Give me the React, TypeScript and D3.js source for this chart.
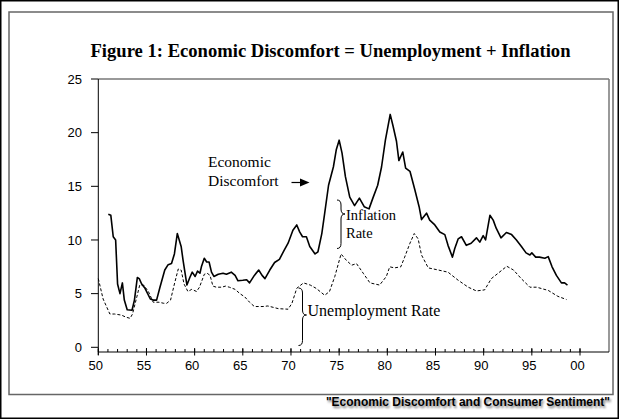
import React from "react";
import * as d3 from "d3";

const discYears = [1951.04,1951.3,1951.55,1951.8,1952.0,1952.25,1952.5,1952.7,1953.0,1953.5,1953.75,1954.05,1954.25,1954.5,1954.85,1955.4,1955.7,1956.05,1956.4,1956.9,1957.25,1957.6,1957.9,1958.2,1958.6,1958.8,1959.2,1959.5,1959.75,1960.05,1960.3,1960.55,1960.7,1961.0,1961.25,1961.5,1961.75,1962.0,1962.45,1962.95,1963.3,1963.8,1964.2,1964.5,1965.0,1965.4,1965.7,1966.2,1966.65,1967.0,1967.3,1967.8,1968.3,1968.8,1969.3,1969.7,1970.2,1970.6,1970.9,1971.2,1971.6,1971.95,1972.5,1972.8,1973.2,1973.5,1973.9,1974.4,1974.7,1975.0,1975.3,1975.65,1976.1,1976.6,1977.1,1977.6,1978.1,1978.5,1979.0,1979.4,1979.8,1980.3,1980.6,1980.95,1981.2,1981.6,1981.9,1982.35,1982.85,1983.3,1983.55,1984.07,1984.4,1984.93,1985.45,1985.97,1986.3,1986.76,1987.0,1987.35,1987.7,1988.2,1988.7,1989.25,1989.6,1989.95,1990.2,1990.65,1990.99,1991.3,1991.8,1992.36,1992.9,1993.4,1993.92,1994.4,1994.8,1995.0,1995.4,1995.8,1996.35,1996.7,1997.1,1997.55,1998.07,1998.4,1998.7];
const discValues = [12.4,12.3,10.3,10.0,5.9,5.0,6.0,4.4,3.5,3.45,4.4,6.5,6.4,5.9,5.5,4.5,4.4,4.4,5.6,7.2,7.7,7.8,8.7,10.6,9.4,8.1,5.8,6.5,7.0,6.6,7.1,6.9,7.5,8.3,7.95,7.95,7.0,6.6,6.8,6.9,6.8,7.0,6.7,6.2,6.25,6.3,6.0,6.7,7.2,6.7,6.4,7.2,7.9,8.2,9.05,9.7,10.9,11.4,10.75,10.3,10.3,9.4,8.7,8.9,10.6,12.5,15.1,16.8,18.4,19.3,18.1,15.9,14.0,13.2,13.9,13.1,12.9,13.9,15.1,16.8,19.3,21.7,20.6,19.2,17.4,18.2,16.7,16.4,14.7,13.1,11.9,12.5,11.85,11.4,10.75,10.5,9.5,8.4,9.2,10.1,10.3,9.5,9.7,10.2,9.8,10.4,10.0,12.3,11.85,11.1,10.2,10.7,10.5,10.0,9.4,8.8,8.6,8.8,8.4,8.4,8.3,8.45,7.5,6.7,6.0,6.0,5.8];

const unempYears = [1950.0,1950.5,1951.2,1951.7,1952.4,1952.9,1953.3,1953.55,1954.0,1954.3,1954.7,1955.2,1955.7,1956.3,1956.8,1957.1,1957.5,1957.9,1958.3,1958.6,1958.9,1959.3,1959.7,1960.2,1960.5,1961.0,1961.3,1961.6,1961.9,1962.25,1962.8,1963.2,1963.6,1964.2,1964.7,1965.2,1965.7,1966.2,1966.6,1967.1,1967.6,1968.7,1969.7,1970.1,1970.6,1971.3,1972.0,1972.6,1973.5,1974.0,1974.55,1975.2,1975.75,1976.3,1976.8,1977.5,1978.2,1979.2,1979.9,1980.25,1980.75,1981.4,1981.8,1982.35,1982.8,1983.2,1983.55,1984.25,1985.3,1986.3,1987.35,1988.4,1989.25,1990.1,1990.8,1991.5,1992.4,1993.1,1993.9,1994.8,1995.5,1996.7,1997.7,1998.6];
const unempValues = [6.4,4.5,3.1,3.1,3.0,2.8,2.7,3.1,4.7,5.8,5.8,5.2,4.2,4.2,4.1,4.1,4.4,5.9,7.3,7.2,5.9,5.2,5.4,5.2,5.6,6.8,6.9,6.7,5.7,5.6,5.6,5.7,5.6,5.4,5.0,4.7,4.2,3.8,3.8,3.8,3.85,3.6,3.55,4.1,5.5,6.0,5.8,5.5,4.85,5.2,6.6,8.7,8.1,7.65,7.8,6.9,6.0,5.8,6.6,7.5,7.4,7.5,8.4,9.7,10.6,10.1,8.6,7.4,7.2,7.0,6.25,5.6,5.25,5.35,6.4,6.9,7.55,7.2,6.4,5.6,5.6,5.3,4.75,4.45];

const yTicks = [0, 5, 10, 15, 20, 25];
const xMajorTicks = [1950, 1955, 1960, 1965, 1970, 1975, 1980, 1985, 1990, 1995, 2000];
const xTickLabels = ["50", "55", "60", "65", "70", "75", "80", "85", "90", "95", "00"];
const xMinorTicks = d3.range(1950, 2001);

const title = "Figure 1: Economic Discomfort = Unemployment + Inflation";
const footer = "\"Economic Discomfort and Consumer Sentiment\"";

const SERIF = "'Liberation Serif', 'Times New Roman', serif";
const SANS = "'Liberation Sans', Arial, sans-serif";

function brace(x: number, y0: number, y1: number, w: number, tipY: number) {
  const r = Math.min(5, (y1 - y0) / 6);
  const xm = x + w / 2;
  return `M${x},${y0} Q${xm},${y0} ${xm},${y0 + r} L${xm},${tipY - r} Q${xm},${tipY} ${x + w},${tipY} Q${xm},${tipY} ${xm},${tipY + r} L${xm},${y1 - r} Q${xm},${y1} ${x},${y1}`;
}

export default function App() {
  const left = 98.3, plotRight = 609, top = 79, axisY = 352;
  const x = d3.scaleLinear().domain([1950, 2000]).range([left, 580]);
  const y = d3.scaleLinear().domain([0, 25]).range([347.3, top]);

  const discData = discYears.map((d, i) => [d, discValues[i]] as [number, number]);
  const unempData = unempYears.map((d, i) => [d, unempValues[i]] as [number, number]);
  const line = d3.line<[number, number]>().x(d => x(d[0])).y(d => y(d[1]));

  return (
    <svg width={621} height={420} style={{ position: "absolute", left: 0, top: 0, background: "#fff" }}>
      <defs>
        <filter id="blur" x="-5%" y="-50%" width="110%" height="200%">
          <feGaussianBlur stdDeviation="1" />
        </filter>
      </defs>
      <rect x={0} y={0} width={621} height={420} fill="#fff" />
      <rect x={0.75} y={0.75} width={617.5} height={417.5} fill="none" stroke="#000" strokeWidth={1.5} />
      <rect x={9} y={12} width={604} height={382.5} fill="none" stroke="#666" strokeWidth={1.5} />

      <text x={330.5} y={57} textAnchor="middle" fontFamily={SERIF} fontWeight="bold" fontSize={18.6}>{title}</text>

      {/* plot frame */}
      <line x1={left} x2={plotRight} y1={top} y2={top} stroke="#777" strokeWidth={1.5} />
      <line x1={plotRight} x2={plotRight} y1={top} y2={axisY} stroke="#777" strokeWidth={1.5} />
      <line x1={left} x2={left} y1={top} y2={axisY + 3} stroke="#000" strokeWidth={1} />
      <line x1={left} x2={plotRight} y1={axisY} y2={axisY} stroke="#000" strokeWidth={1} />

      {yTicks.map(t => (
        <g key={t}>
          <line x1={91} x2={left} y1={y(t)} y2={y(t)} stroke="#000" strokeWidth={1} />
          <text x={82} y={y(t)} dy="0.36em" textAnchor="end" fontFamily={SANS} fontSize={13}>{t}</text>
        </g>
      ))}
      {xMinorTicks.map(t => (
        <line key={t} x1={x(t)} x2={x(t)} y1={axisY - 3} y2={axisY} stroke="#000" strokeWidth={1} />
      ))}
      {xMajorTicks.map((t, i) => (
        <g key={t}>
          <line x1={x(t)} x2={x(t)} y1={axisY - 4} y2={axisY + 3.5} stroke="#000" strokeWidth={1} />
          <text x={x(t) - 2.5} y={axisY + 18} textAnchor="middle" fontFamily={SANS} fontSize={13}>{xTickLabels[i]}</text>
        </g>
      ))}

      <path d={line(unempData) || ""} fill="none" stroke="#000" strokeWidth={1} strokeDasharray="3,2" />
      <path d={line(discData) || ""} fill="none" stroke="#000" strokeWidth={1.6} strokeLinejoin="round" />

      {/* annotations */}
      <text x={208} y={166.5} fontFamily={SERIF} fontSize={15.5}>Economic</text>
      <text x={208} y={186} fontFamily={SERIF} fontSize={15.5}>Discomfort</text>
      <line x1={291.5} x2={301} y1={182.5} y2={182.5} stroke="#000" strokeWidth={1.2} />
      <path d="M300,178.5 L309.5,182.5 L300,186.5 Z" fill="#000" />

      <path d={brace(337, 200, 248.5, 8, 214)} fill="none" stroke="#000" strokeWidth={1} />
      <text x={346} y={219.5} fontFamily={SERIF} fontSize={14.5}>Inflation</text>
      <text x={346} y={237.5} fontFamily={SERIF} fontSize={14.5}>Rate</text>

      <path d={brace(298.5, 288, 345.5, 8, 315)} fill="none" stroke="#000" strokeWidth={1} />
      <text x={307.5} y={315.5} fontFamily={SERIF} fontSize={16}>Unemployment Rate</text>

      <text x={611.5} y={407.5} textAnchor="end" fontFamily={SANS} fontWeight="bold" fontSize={12} fill="#777" filter="url(#blur)">{footer}</text>
      <text x={610} y={406} textAnchor="end" fontFamily={SANS} fontWeight="bold" fontSize={12} fill="#000">{footer}</text>
    </svg>
  );
}
